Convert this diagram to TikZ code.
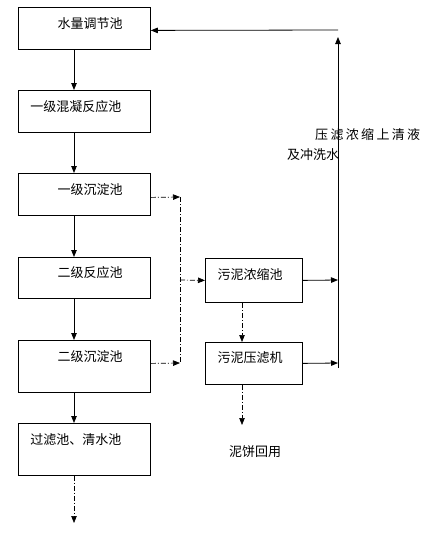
\documentclass[tikz,border=0pt]{standalone}
\usepackage{fontspec}
\setmainfont{Noto Sans CJK SC}
\usetikzlibrary{arrows.meta}
\begin{document}
\begin{tikzpicture}[x=1pt,y=-1pt,
  box/.style={draw,line width=0.8pt,rectangle,anchor=north west,inner sep=0pt},
  lbl/.style={inner sep=0pt,font=\fontsize{13pt}{15pt}\selectfont},
  arr/.style={line width=0.8pt,-{Triangle[length=7pt,width=5.5pt]}},
  dd/.style={line width=0.7pt,dash pattern=on 5pt off 2pt on 1pt off 2pt},
  ddarr/.style={dd,-{Triangle[length=7pt,width=5.5pt]}},
  ln/.style={line width=0.8pt}]
\useasboundingbox (0,0) rectangle (435,536);
% left boxes
\node[box,minimum width=132pt,minimum height=42pt] (b1) at (18,7) {};
\node[box,minimum width=132pt,minimum height=42pt] (b2) at (18,90) {};
\node[box,minimum width=132pt,minimum height=42pt] (b3) at (18,173) {};
\node[box,minimum width=132pt,minimum height=41pt] (b4) at (18,257) {};
\node[box,minimum width=132pt,minimum height=52pt] (b5) at (18,340) {};
\node[box,minimum width=132pt,minimum height=52pt] (b6) at (18,423) {};
% right boxes
\node[box,minimum width=97pt,minimum height=44pt] (rA) at (205,258) {};
\node[box,minimum width=97pt,minimum height=42pt] (rB) at (205,342) {};
% labels
\node[lbl] (t1) at (90,24) {水量调节池};
\node[lbl] (t2) at (76,107) {一级混凝反应池};
\node[lbl] (t3) at (90,190) {一级沉淀池};
\node[lbl] (t4) at (90,273) {二级反应池};
\node[lbl] (t5) at (90,357) {二级沉淀池};
\node[lbl] (t6) at (76,440) {过滤池、清水池};
\node[lbl] (tA) at (250,275) {污泥浓缩池};
\node[lbl] (tB) at (250,358) {污泥压滤机};
\node[lbl] (tC) at (255,452) {泥饼回用};
\node[lbl,anchor=west] (tD) at (315,135) {\addfontfeatures{LetterSpace=18}压滤浓缩上清液};
\node[lbl,anchor=west] (tE) at (287,155) {及冲洗水};
% coordinates
\coordinate (j1) at (180,197);
\coordinate (j2) at (180,363);
\coordinate (j3) at (180,280);
\coordinate (k1) at (338,280);
\coordinate (k2) at (338,363);
\coordinate (k3) at (338,368);
\coordinate (k4) at (338,37);
\coordinate (k5) at (338,30);
\coordinate (cake) at (242,425);
\coordinate (out) at (74,523);
% main flow
\draw[arr] ([xshift=56pt]b1.south west) -- ([xshift=56pt]b2.north west);
\draw[arr] ([xshift=56pt]b2.south west) -- ([xshift=56pt]b3.north west);
\draw[arr] ([xshift=56pt]b3.south west) -- ([xshift=56pt]b4.north west);
\draw[arr] ([xshift=56pt]b4.south west) -- ([xshift=56pt]b5.north west);
\draw[arr] ([xshift=56pt]b5.south west) -- ([xshift=56pt]b6.north west);
\draw[ddarr] ([xshift=56pt]b6.south west) -- (out);
% sludge
\draw[ddarr] ([yshift=-3pt]b3.east) -- (j1);
\draw[ddarr] ([yshift=3pt]b5.east) -- (j2);
\draw[dd] (j1) -- (j2);
\draw[ddarr] (j3) -- (rA.west);
\draw[ddarr] ([xshift=37pt]rA.south west) -- ([xshift=37pt]rB.north west);
\draw[ddarr] ([xshift=37pt]rB.south west) -- (cake);
% return
\draw[arr] (rA.east) -- (k1);
\draw[arr] (rB.east) -- (k2);
\draw[arr] (k3) -- (k4);
\draw[arr] (k5) -- ([yshift=-2pt]b1.east);
\end{tikzpicture}
\end{document}
